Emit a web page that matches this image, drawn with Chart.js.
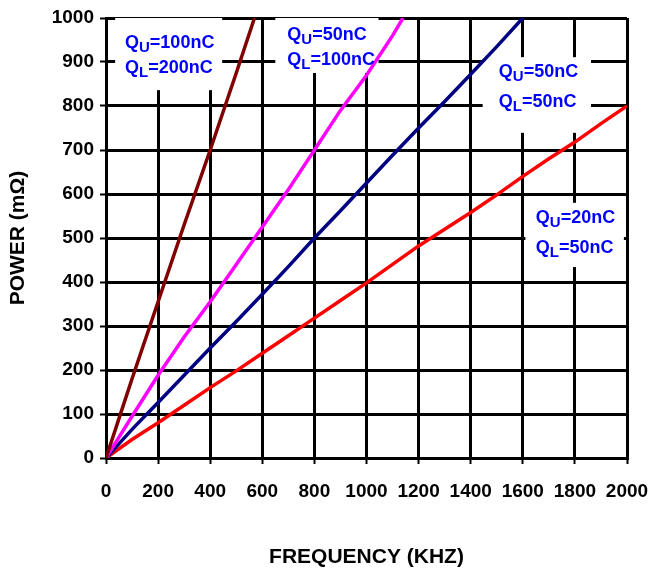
<!DOCTYPE html>
<html>
<head>
<meta charset="utf-8">
<script src="https://cdn.jsdelivr.net/npm/chart.js@4.4.1/dist/chart.umd.min.js"></script>
<style>
body { margin: 0; background: #fff; }
</style>
</head>
<body>
<canvas id="powerChart" width="648" height="570"></canvas>
<script>
// tick values
const xTicks = [0, 200, 400, 600, 800, 1000, 1200, 1400, 1600, 1800, 2000];
const yTicks = [0, 100, 200, 300, 400, 500, 600, 700, 800, 900, 1000];

// Qu=100nC, Ql=200nC
const brownFreq  = [0, 50, 100, 200, 300, 400, 500, 570];
const brownPower = [0, 90, 180, 355, 530, 700, 875, 1000];

// Qu=50nC, Ql=100nC
const magentaFreq  = [0, 100, 200, 300, 400, 500, 600, 700, 800, 900, 1000, 1100, 1140];
const magentaPower = [0, 95, 188, 275, 355, 440, 525, 610, 700, 790, 870, 960, 1000];

// Qu=50nC, Ql=50nC
const navyFreq  = [0, 100, 200, 300, 400, 500, 600, 700, 800, 900, 1000, 1100, 1200, 1300, 1400, 1500, 1600];
const navyPower = [0, 65, 126, 188, 250, 310, 372, 435, 500, 562, 625, 688, 750, 810, 872, 935, 1000];

// Qu=20nC, Ql=50nC
const redFreq  = [0, 100, 200, 300, 400, 500, 600, 700, 800, 900, 1000, 1100, 1200, 1300, 1400, 1500, 1600, 1700, 1800, 1900, 2000];
const redPower = [0, 42, 80, 120, 160, 198, 238, 278, 318, 358, 398, 440, 482, 520, 558, 598, 640, 680, 718, 760, 800];

// label texts: [subscript letter, value]
const labelTexts = [
    [['U', '100nC'], ['L', '200nC']],
    [['U', '50nC'], ['L', '100nC']],
    [['U', '50nC'], ['L', '50nC']],
    [['U', '20nC'], ['L', '50nC']]
];

function pts(xs, ys) {
    return xs.map((x, i) => ({x: x, y: ys[i]}));
}

const FONT = "'Liberation Sans', Arial, sans-serif";

// white boxes + labels, placed in data units
const notes = [
    {box: [35, 446, 836, 1000],  tx: 73,   ty: [932, 875]},
    {box: [650, 1046, 875, 1000], tx: 696, ty: [950, 893]},
    {box: [1446, 1862, 739, 911], tx: 1508, ty: [866, 798]},
    {box: [1610, 1988, 434, 580], tx: 1650, ty: [534, 466]}
];

const notePlugin = {
    id: 'notes',
    beforeDatasetsDraw(chart) {
        const ctx = chart.ctx, xs = chart.scales.x, ys = chart.scales.y;
        ctx.save();
        ctx.fillStyle = '#fff';
        notes.forEach(n => {
            const l = xs.getPixelForValue(n.box[0]), r = xs.getPixelForValue(n.box[1]);
            const b = ys.getPixelForValue(n.box[2]), t = ys.getPixelForValue(n.box[3]);
            ctx.fillRect(l, t, r - l, b - t);
        });
        ctx.restore();
    },
    afterDatasetsDraw(chart) {
        const ctx = chart.ctx, xs = chart.scales.x, ys = chart.scales.y;
        ctx.save();
        ctx.fillStyle = '#0000ff';
        ctx.textBaseline = 'alphabetic';
        notes.forEach((n, i) => {
            labelTexts[i].forEach((line, j) => {
                let x = xs.getPixelForValue(n.tx);
                const y = ys.getPixelForValue(n.ty[j]);
                ctx.font = 'bold 18px ' + FONT;
                ctx.fillText('Q', x, y);
                x += ctx.measureText('Q').width;
                ctx.font = 'bold 15px ' + FONT;
                ctx.fillText(line[0], x, y + 4);
                x += ctx.measureText(line[0]).width;
                ctx.font = 'bold 18px ' + FONT;
                ctx.fillText('=' + line[1], x, y);
            });
        });
        ctx.restore();
    }
};

const lineSet = (data, color) => ({
    data: data,
    borderColor: color,
    borderWidth: 3.5,
    pointRadius: 0,
    tension: 0,
    fill: false
});

new Chart(document.getElementById('powerChart').getContext('2d'), {
    type: 'line',
    data: {
        datasets: [
            lineSet(pts(brownFreq, brownPower), '#800000'),
            lineSet(pts(magentaFreq, magentaPower), '#ff00ff'),
            lineSet(pts(navyFreq, navyPower), '#000080'),
            lineSet(pts(redFreq, redPower), '#ff0000')
        ]
    },
    options: {
        responsive: false,
        animation: false,
        layout: { padding: { top: 18, right: 21, left: 0, bottom: 0 } },
        plugins: { legend: { display: false }, tooltip: { enabled: false } },
        scales: {
            x: {
                type: 'linear',
                min: 0, max: 2000,
                afterBuildTicks: s => { s.ticks = xTicks.map(v => ({value: v})); },
                afterFit: s => { s.height = 112; s.paddingLeft = 0; s.paddingRight = 0; },
                grid: { color: '#000', lineWidth: 3, tickLength: 6, tickColor: '#000', tickWidth: 2 },
                border: { color: '#000', width: 3 },
                ticks: { color: '#000', padding: 16, maxRotation: 0, callback: v => String(v),
                         font: { family: FONT, size: 19, weight: 'bold' } },
                title: { display: true, text: 'FREQUENCY (KHZ)', color: '#000', padding: { top: 0, bottom: 0 },
                         font: { family: FONT, size: 21, weight: 'bold' } }
            },
            y: {
                min: 0, max: 1000,
                afterBuildTicks: s => { s.ticks = yTicks.map(v => ({value: v})); },
                afterFit: s => { s.width = 106; s.paddingTop = 0; s.paddingBottom = 0; },
                grid: { color: '#000', lineWidth: 3, tickLength: 6, tickColor: '#000', tickWidth: 2 },
                border: { color: '#000', width: 3 },
                ticks: { color: '#000', padding: 6, callback: v => String(v),
                         font: { family: FONT, size: 19, weight: 'bold' } },
                title: { display: true, text: 'POWER (mΩ)', color: '#000', padding: { top: 6, bottom: 0 },
                         font: { family: FONT, size: 21, weight: 'bold' } }
            }
        }
    },
    plugins: [notePlugin]
});
</script>
</body>
</html>
